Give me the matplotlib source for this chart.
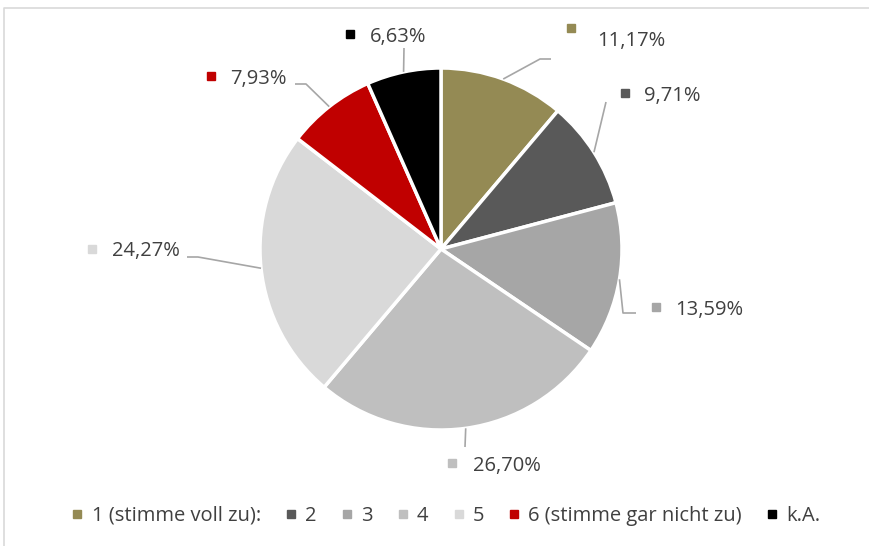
import numpy as np
import matplotlib.pyplot as plt
from matplotlib.lines import Line2D

categories = ['1 (stimme voll zu):', '2', '3', '4', '5', '6 (stimme gar nicht zu)', 'k.A.']
values = [11.17, 9.71, 13.59, 26.70, 24.27, 7.93, 6.63]
labels = ['11,17%', '9,71%', '13,59%', '26,70%', '24,27%', '7,93%', '6,63%']
colors = ['#948A54', '#595959', '#A6A6A6', '#BFBFBF', '#D9D9D9', '#C00000', '#000000']

W, H = 869, 546
cx, cy, r = 441, 249, 181
txt_col = '#404040'
plt.rcParams['font.family'] = ['Open Sans', 'DejaVu Sans']

# label layout in pixels (y down): marker, text start, leader elbow points
label_layout = [
    ((571, 28), (597, 41), [(540, 59), (551, 59)]),
    ((625, 93), (644, 96), [(606, 102)]),
    ((656, 307), (675, 310), [(623, 313), (636, 313)]),
    ((452, 463), (473, 466), [(465, 447)]),
    ((92, 249), (112, 251), [(198, 257), (187, 257)]),
    ((211, 76), (230, 79), [(306, 84), (295, 84)]),
    ((350, 34), (370, 37), [(404, 48)]),
]

fig = plt.figure(figsize=(W / 100, H / 100), dpi=100)
ax = fig.add_axes([0, 0, 1, 1])

ax.pie(values, colors=colors, startangle=90, counterclock=False,
       center=(cx, H - cy), radius=r,
       wedgeprops=dict(edgecolor='white', linewidth=2.5))

# chart area border (only top and left visible)
ax.plot([4, 4, W], [0, H - 8, H - 8], color='#D9D9D9', lw=1.2)

cum = np.cumsum([0] + values[:-1])
for i, v in enumerate(values):
    mid = np.deg2rad((cum[i] + v / 2) / sum(values) * 360)
    sx = cx + r * np.sin(mid)
    sy = cy - r * np.cos(mid)
    (mx, my), (tx, ty), path = label_layout[i]
    px = [sx] + [p[0] for p in path]
    py = [H - sy] + [H - p[1] for p in path]
    ax.plot(px, py, color='#A6A6A6', lw=1.2, solid_capstyle='butt')
    ax.plot(mx, H - my, marker='s', markersize=6, color=colors[i], linestyle='none')
    ax.text(tx, H - ty, labels[i], ha='left', va='center', fontsize=14.5, color=txt_col)

ax.set_xlim(0, W)
ax.set_ylim(0, H)
ax.set_aspect('equal')
ax.set_axis_off()

handles = [Line2D([], [], marker='s', linestyle='none', markersize=6, color=c) for c in colors]
fig.legend(handles, categories, loc='center', bbox_to_anchor=(446 / W, 1 - 516 / H),
           ncol=7, frameon=False, handlelength=0.6, handletextpad=0.4,
           columnspacing=1.2, fontsize=14.5, labelcolor=txt_col)

fig.savefig('out.png', dpi=100)
